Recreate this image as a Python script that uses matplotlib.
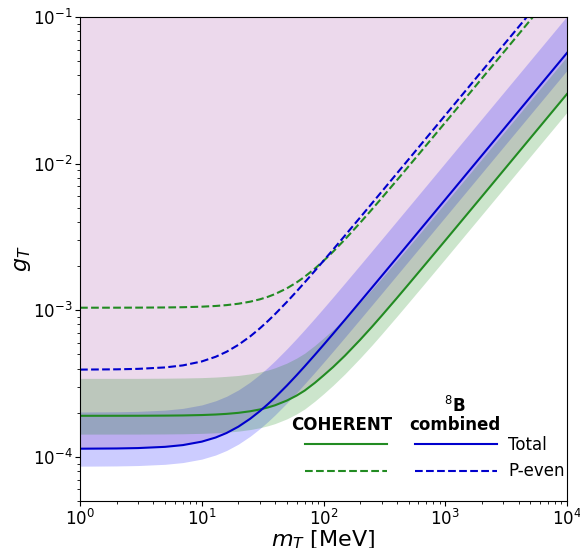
import numpy as np
import matplotlib
matplotlib.use("Agg")
import matplotlib.pyplot as plt
from matplotlib.lines import Line2D

# ---- data; coupling values in units of 1e-4 ----
mass = [1, 2, 3, 5, 7, 10, 13, 16, 20, 25, 30, 35, 40, 50, 60, 70, 85, 100, 120, 150,
        200, 250, 300, 400, 500, 700, 1000, 2000, 5000, 10000]

coh_total = [1.905, 1.906, 1.907, 1.911, 1.916, 1.928, 1.944, 1.964, 1.996, 2.046, 2.105, 2.173, 2.248,
             2.420, 2.615, 2.83, 3.20, 3.59, 4.10, 4.90, 6.29, 7.71, 9.16, 12.09, 15.05, 20.99, 29.91,
             59.7, 149.3, 298.5]
coh_band_hi = [3.43, 3.43, 3.43, 3.44, 3.45, 3.47, 3.50, 3.54, 3.59, 3.68, 3.79, 3.91, 4.05, 4.36, 4.71,
               5.09, 5.76, 6.46, 7.38, 8.82, 11.32, 13.88, 16.49, 21.76, 27.09, 37.78, 53.84, 107.5,
               268.7, 537.3]
coh_band_lo = [1.429, 1.430, 1.430, 1.433, 1.437, 1.446, 1.458, 1.473, 1.497, 1.535, 1.579, 1.630, 1.686,
               1.815, 1.961, 2.12, 2.40, 2.69, 3.08, 3.68, 4.72, 5.78, 6.87, 9.07, 11.29, 15.74, 22.43,
               44.8, 112.0, 223.9]
coh_peven = [10.402, 10.407, 10.416, 10.444, 10.485, 10.573, 10.691, 10.837, 11.076, 11.439, 11.867,
             12.354, 12.893, 14.103, 15.453, 16.911, 19.245, 21.704, 25.114, 30.409, 39.495, 48.747,
             58.089, 76.906, 95.816, 133.755, 190.78, 381.0, 952.5, 1905.0]

b8_total = [1.1364, 1.1407, 1.1478, 1.1701, 1.2028, 1.2697, 1.3548, 1.4550, 1.6072, 1.8198, 2.0499,
            2.2922, 2.5433, 3.063, 3.598, 4.142, 4.968, 5.802, 6.922, 8.610, 11.437, 14.27, 17.108,
            22.79, 28.47, 39.85, 56.9, 113.8, 284.5, 569.0]
b8_band_hi = [2.023, 2.030, 2.043, 2.083, 2.141, 2.260, 2.412, 2.590, 2.861, 3.239, 3.649, 4.080, 4.527,
              5.452, 6.404, 7.373, 8.843, 10.33, 12.32, 15.33, 20.36, 25.40, 30.45, 40.57, 50.68, 70.93,
              101.3, 202.6, 506.4, 1012.8]
b8_band_lo = [0.8637, 0.8669, 0.8723, 0.8893, 0.9141, 0.9650, 1.0296, 1.1058, 1.2215, 1.3830, 1.5579,
              1.7421, 1.9329, 2.3279, 2.7345, 3.1479, 3.7757, 4.4095, 5.2607, 6.5436, 8.6921, 10.845,
              13.002, 17.32, 21.64, 30.29, 43.24, 86.49, 216.2, 432.4]
b8_peven = [3.9358, 3.9532, 3.9820, 4.0728, 4.2054, 4.4739, 4.8136, 5.2103, 5.8077, 6.6343, 7.5223,
            8.4522, 9.4118, 11.389, 13.417, 15.474, 18.593, 21.738, 25.955, 32.310, 42.940, 53.595,
            64.261, 85.61, 106.97, 149.71, 213.8, 427.6, 1069.0, 2138.0]

unit = 1e-4
x_label = r"$m_T$ [MeV]"
y_label = r"$g_T$"
col_headers = ["COHERENT", "$^8$B\ncombined"]
row_labels = ["Total", "P-even"]

# ---- figure ----
fig = plt.figure(figsize=(5.8, 5.48), dpi=100)
ax = fig.add_axes([0.138, 0.0858, 0.8396, 0.8832])

m = np.array(mass, dtype=float)
gt = np.array(coh_total) * unit
gp = np.array(coh_peven) * unit
bt = np.array(b8_total) * unit
bp = np.array(b8_peven) * unit

excl_lo = np.minimum(gt, bt)
ax.fill_between(m, excl_lo, 1.0, color="purple", alpha=0.15, lw=0)
ax.fill_between(m, np.array(b8_band_lo) * unit, np.array(b8_band_hi) * unit, color="blue", alpha=0.2, lw=0)
ax.fill_between(m, np.array(coh_band_lo) * unit, np.array(coh_band_hi) * unit, color="green", alpha=0.2, lw=0)

gcol = "forestgreen"
bcol = "mediumblue"
lw = 1.5
ax.plot(m, gt, color=gcol, lw=lw)
ax.plot(m, gp, color=gcol, lw=lw, ls="--")
ax.plot(m, bt, color=bcol, lw=lw)
ax.plot(m, bp, color=bcol, lw=lw, ls="--")

ax.set_xscale("log")
ax.set_yscale("log")
ax.set_xlim(1, 1e4)
ax.set_ylim(5e-5, 1e-1)
ax.set_xlabel(x_label, fontsize=16, labelpad=-0.5)
ax.set_ylabel(y_label, fontsize=16, labelpad=0)
ax.tick_params(labelsize=12, pad=2)

handles = [Line2D([], [], color=gcol, lw=lw), Line2D([], [], color=gcol, lw=lw, ls="--"),
           Line2D([], [], color=bcol, lw=lw), Line2D([], [], color=bcol, lw=lw, ls="--")]
leg = ax.legend(handles, ["", "", row_labels[0], row_labels[1]], ncol=2, frameon=False,
                fontsize=12, handlelength=4.9, columnspacing=1.0, handletextpad=0.7,
                loc="upper left", bbox_to_anchor=(0.448, 0.148), borderaxespad=0.0)

ax.text(0.538, 0.157, col_headers[0], transform=ax.transAxes, fontsize=12, fontweight="bold",
        ha="center", va="center")
ax.text(0.770, 0.178, col_headers[1], transform=ax.transAxes, fontsize=12, fontweight="bold",
        ha="center", va="center", linespacing=1.0)

fig.savefig("out.png", dpi=100)
